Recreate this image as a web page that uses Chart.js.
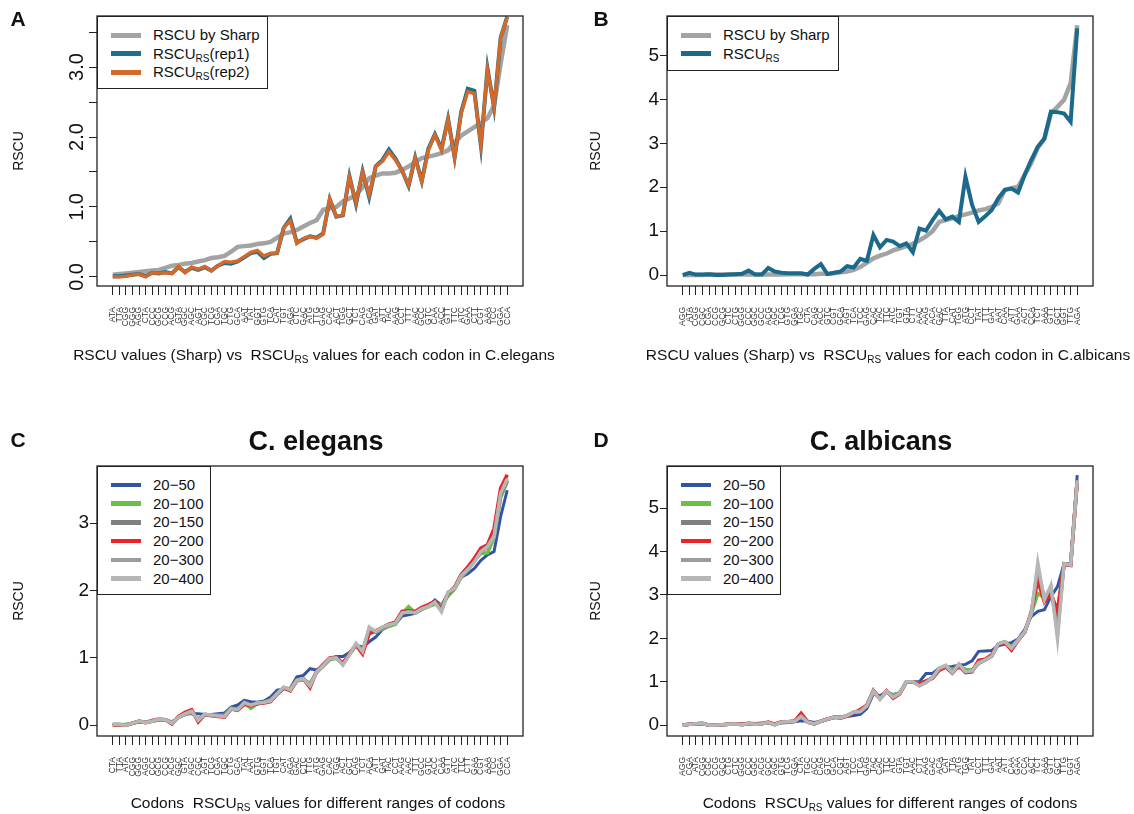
<!DOCTYPE html>
<html>
<head>
<meta charset="utf-8">
<script src="https://cdn.jsdelivr.net/npm/chart.js@4.4.0/dist/chart.umd.min.js"></script>
<style>
  body { margin: 0; background: #fff; width: 1134px; height: 814px; position: relative; overflow: hidden;
         font-family: 'Liberation Sans', Arial, sans-serif; color: #111; }
  canvas { position: absolute; }
  .t { position: absolute; white-space: nowrap; transform: translate(-50%, -50%); }
  .yt { transform: translate(-50%, -50%) rotate(-90deg); font-size: 14px; }
  .xt { font-size: 15.5px; }
  .lab { font-weight: bold; font-size: 21px; }
  .ttl { font-weight: bold; font-size: 27px; }
  .leg { position: absolute; border: 1.3px solid #222; background: #fff; box-sizing: border-box; }
  .leg div { position: absolute; left: 0; height: 18px; font-size: 15px; line-height: 18px; white-space: nowrap; }
  .leg i { position: absolute; left: 13px; top: 7px; width: 30px; height: 5px; }
  .leg span { position: absolute; left: 55px; top: 0; }
  sub { font-size: 10px; vertical-align: -3px; }
</style>
</head>
<body>
<canvas id="pA" width="567" height="364" style="left:0;top:0"></canvas>
<canvas id="pB" width="567" height="364" style="left:567px;top:0"></canvas>
<canvas id="pC" width="567" height="364" style="left:0;top:450px"></canvas>
<canvas id="pD" width="567" height="364" style="left:567px;top:450px"></canvas>

<div class="t lab" style="left:18px;top:19px">A</div>
<div class="t lab" style="left:601px;top:19px">B</div>
<div class="t lab" style="left:18px;top:440px">C</div>
<div class="t lab" style="left:601px;top:440px">D</div>
<div class="t ttl" style="left:316px;top:441px">C. elegans</div>
<div class="t ttl" style="left:881px;top:441px">C. albicans</div>

<div class="t yt" style="left:18px;top:151px">RSCU</div>
<div class="t yt" style="left:595px;top:151px">RSCU</div>
<div class="t yt" style="left:18px;top:601px">RSCU</div>
<div class="t yt" style="left:595px;top:601px">RSCU</div>

<div class="t xt" style="left:314px;top:355px">RSCU values (Sharp) vs &nbsp;RSCU<sub>RS</sub> values for each codon in C.elegans</div>
<div class="t xt" style="left:888px;top:355px">RSCU values (Sharp) vs &nbsp;RSCU<sub>RS</sub> values for each codon in C.albicans</div>
<div class="t xt" style="left:318px;top:803px">Codons &nbsp;RSCU<sub>RS</sub> values for different ranges of codons</div>
<div class="t xt" style="left:890px;top:803px">Codons &nbsp;RSCU<sub>RS</sub> values for different ranges of codons</div>

<div id="legA" class="leg" style="left:97px;top:16px;width:171px;height:73px"></div>
<div id="legB" class="leg" style="left:667px;top:16px;width:172px;height:55px"></div>
<div id="legC" class="leg" style="left:97px;top:466px;width:114px;height:129px"></div>
<div id="legD" class="leg" style="left:667px;top:466px;width:114px;height:129px"></div>

<script>
// codons, in the order of the x axis of each panel
const codonsA = ['ATA','TTA','CGG','GGG','AGG','CTA','CCC','GCG','CCG','ACG','GTA','GGC','AGC','AGT','CGC','TCG','CGA','TGC','CTG','GCA',
  'AAT','TAT','GGT','GTG','TCA','CAT','TGT','AGA','CTC','GAC','ATG','TTG','GAG','CAC','ACT','TGG','GCT','TCT','CAG','ACA',
  'GAT','ATT','TAC','AAG','CCT','TTT','AAC','GCC','GTC','CAA','ACC','GTT','TTC','ATC','GAA','CTT','CGT','AAA','TCC','GGA','CCA'];
const codonsB = ['AGG','ATA','CGG','CGC','CGA','CCG','GCG','CTC','CTG','GGG','CCC','GGC','GCC','ACG','AGC','TCG','GTG','GGA','TGC','CTA',
  'CAG','ACC','GTC','CGT','GCA','AGT','TCA','TCC','GAG','CAC','TAC','TTC','ATC','TGT','GTA','CTT','AAC','AAG','ACA','GAC',
  'TTA','CAT','TGG','ATG','CCT','TAT','TTT','GAT','AAT','CAA','ATT','GAA','ACT','CCA','TCT','AAA','GTT','GCT','GGT','TTG','AGA'];
const codonsC = ['CTA','TTA','ATA','CGG','GGG','AGG','CCC','GCG','CCG','ACG','GGC','GTA','AGC','CGC','AGT','TCG','CGA','TGC','CTG','GCA',
  'TAT','AAT','GTG','GGT','TCA','TGT','CAT','AGA','GAC','CTC','TTG','ATG','GAG','CAC','TGG','ACT','GCT','CAG','TCT','ACA',
  'ATT','GAT','TAC','CCT','AAG','AAC','TTT','GCC','GTC','ACC','CAA','GTT','ATC','TTC','CTT','GAA','CGT','AAA','TCC','GGA','CCA'];
const codonsD = ['AGG','CGA','ATA','CGG','CGC','CCG','GCG','CTG','CTC','GGG','CCC','GGC','ACG','GCC','AGC','GTG','TCG','GGA','CTA','TGC',
  'ACC','CAG','GTC','GCA','CGT','AGT','TCC','TCA','GAG','TAC','CAC','TTC','ATC','GTA','TGT','AAC','CTT','AAG','GAC','ACA',
  'CAT','TTA','ATG','TGG','TAT','CCT','TTT','GAT','AAT','ATT','CAA','GAA','CCA','ACT','TCT','AAA','GTT','GCT','TTG','GGT','AGA'];

// panel A: C. elegans
const sharpA = [0.03,0.04,0.05,0.06,0.07,0.08,0.09,0.10,0.13,0.16, 0.17,0.19,0.20,0.22,0.24,0.27,0.28,0.30,0.36,0.43,
  0.44,0.45,0.47,0.48,0.50,0.56,0.62,0.64,0.67,0.72, 0.77,0.81,0.96,0.98,1.00,1.08,1.12,1.17,1.28,1.41,
  1.45,1.48,1.48,1.49,1.53,1.58,1.64,1.70,1.72,1.74, 1.77,1.81,1.92,2.02,2.08,2.14,2.20,2.27,2.45,3.05,3.60];
const rep1A = [0.01,0.01,0.02,0.03,0.04,0.01,0.06,0.05,0.07,0.05, 0.14,0.07,0.13,0.10,0.14,0.09,0.16,0.20,0.19,0.22,
  0.28,0.34,0.36,0.27,0.33,0.34,0.70,0.83,0.49,0.54, 0.58,0.56,0.62,1.11,0.86,0.88,1.44,1.04,1.51,1.14,
  1.58,1.67,1.82,1.69,1.52,1.30,1.71,1.37,1.83,2.04, 1.83,2.26,1.71,2.36,2.69,2.66,1.87,2.98,2.42,3.42,3.72];
const rep2A = [0.00,0.00,0.01,0.03,0.04,0.00,0.06,0.05,0.06,0.05, 0.15,0.06,0.14,0.11,0.15,0.09,0.16,0.22,0.21,0.23,
  0.29,0.35,0.38,0.30,0.34,0.34,0.70,0.80,0.48,0.55, 0.58,0.55,0.61,1.12,0.86,0.89,1.43,1.06,1.50,1.17,
  1.58,1.65,1.79,1.67,1.52,1.31,1.70,1.36,1.81,2.03, 1.81,2.25,1.70,2.34,2.65,2.62,1.89,2.96,2.43,3.41,3.72];

// panel B: C. albicans
const sharpB = [0.00,0.00,0.00,0.00,0.01,0.01,0.01,0.01,0.01,0.01, 0.01,0.01,0.01,0.01,0.01,0.01,0.02,0.02,0.02,0.02,
  0.02,0.03,0.03,0.04,0.06,0.08,0.12,0.18,0.28,0.38, 0.44,0.49,0.56,0.61,0.66,0.71,0.79,0.88,1.00,1.21,
  1.25,1.29,1.34,1.38,1.42,1.47,1.50,1.55,1.63,1.94, 1.98,2.01,2.28,2.55,2.90,3.10,3.68,3.83,3.99,4.37,5.69];
const rsB = [0.00,0.05,0.01,0.01,0.02,0.00,0.00,0.01,0.02,0.03, 0.10,0.01,0.01,0.16,0.08,0.05,0.04,0.04,0.04,0.01,
  0.14,0.25,0.02,0.05,0.08,0.20,0.17,0.37,0.32,0.91, 0.63,0.80,0.76,0.66,0.72,0.52,1.06,1.01,1.25,1.46,
  1.27,1.33,1.21,2.24,1.60,1.21,1.34,1.48,1.75,1.94, 1.97,1.88,2.28,2.62,2.92,3.11,3.72,3.71,3.68,3.49,5.62];

// panel C: C. elegans, codon ranges
const c50 = [0.01,0.01,0.01,0.03,0.05,0.04,0.06,0.08,0.08,0.05, 0.11,0.17,0.17,0.17,0.16,0.16,0.17,0.18,0.27,0.30,
  0.37,0.35,0.34,0.36,0.42,0.52,0.54,0.55,0.72,0.74, 0.84,0.82,0.88,0.97,1.02,1.02,1.08,1.19,1.16,1.24,
  1.31,1.42,1.47,1.50,1.62,1.64,1.66,1.72,1.76,1.86, 1.78,1.96,2.04,2.20,2.25,2.33,2.45,2.53,2.58,3.10,3.49];
const c100 = [0.01,0.01,0.01,0.03,0.06,0.04,0.06,0.08,0.08,0.04, 0.12,0.16,0.19,0.09,0.16,0.15,0.15,0.15,0.25,0.24,
  0.33,0.25,0.32,0.34,0.38,0.46,0.55,0.54,0.67,0.68, 0.62,0.78,0.88,0.98,0.99,0.92,1.05,1.20,1.10,1.41,
  1.38,1.43,1.47,1.50,1.66,1.76,1.67,1.72,1.76,1.80, 1.78,1.92,2.02,2.20,2.30,2.45,2.55,2.56,2.78,3.38,3.62];
const c150 = [0.01,0.01,0.00,0.03,0.05,0.04,0.06,0.08,0.08,0.04, 0.12,0.16,0.20,0.08,0.16,0.15,0.14,0.14,0.24,0.23,
  0.33,0.29,0.33,0.34,0.37,0.47,0.56,0.53,0.66,0.68, 0.61,0.79,0.88,0.98,1.00,0.91,1.05,1.20,1.10,1.42,
  1.39,1.45,1.49,1.52,1.66,1.70,1.67,1.73,1.77,1.82, 1.72,1.96,2.04,2.22,2.32,2.44,2.57,2.65,2.83,3.42,3.63];
const c200 = [0.00,0.00,0.00,0.03,0.06,0.04,0.07,0.09,0.08,0.02, 0.13,0.19,0.23,0.05,0.16,0.14,0.13,0.12,0.24,0.22,
  0.31,0.29,0.32,0.33,0.35,0.46,0.55,0.51,0.66,0.69, 0.56,0.80,0.90,1.00,1.01,0.92,1.06,1.19,1.06,1.36,
  1.40,1.45,1.50,1.53,1.69,1.70,1.69,1.75,1.79,1.84, 1.72,1.96,2.05,2.24,2.35,2.48,2.63,2.68,2.92,3.52,3.72];
const c300 = [0.01,0.01,0.00,0.03,0.06,0.04,0.06,0.09,0.08,0.04, 0.12,0.17,0.20,0.08,0.16,0.15,0.14,0.13,0.24,0.23,
  0.33,0.30,0.33,0.34,0.37,0.47,0.56,0.53,0.66,0.69, 0.60,0.79,0.88,0.99,1.00,0.90,1.05,1.20,1.10,1.44,
  1.39,1.45,1.49,1.52,1.66,1.69,1.67,1.73,1.77,1.82, 1.70,1.97,2.04,2.22,2.32,2.43,2.58,2.66,2.82,3.44,3.65];
const c400 = [0.01,0.01,0.00,0.03,0.06,0.04,0.06,0.09,0.08,0.03, 0.12,0.17,0.21,0.07,0.17,0.15,0.14,0.13,0.25,0.23,
  0.34,0.30,0.33,0.34,0.36,0.47,0.57,0.52,0.67,0.69, 0.58,0.79,0.89,0.99,1.00,0.89,1.04,1.22,1.09,1.46,
  1.39,1.46,1.49,1.51,1.67,1.68,1.67,1.73,1.76,1.83, 1.68,1.98,2.03,2.22,2.31,2.42,2.58,2.65,2.80,3.45,3.66];

// panel D: C. albicans, codon ranges
const d50 = [0.00,0.02,0.02,0.03,0.01,0.01,0.01,0.02,0.02,0.02, 0.03,0.03,0.04,0.05,0.03,0.05,0.06,0.08,0.10,0.09,
  0.06,0.09,0.13,0.17,0.19,0.20,0.22,0.25,0.38,0.72, 0.68,0.76,0.70,0.74,1.00,1.00,1.00,1.19,1.19,1.31,
  1.33,1.35,1.38,1.40,1.48,1.70,1.71,1.72,1.83,1.87, 1.90,1.98,2.20,2.50,2.62,2.66,2.96,3.19,3.72,3.72,5.76];
const d100 = [0.00,0.02,0.03,0.04,0.00,0.00,0.01,0.02,0.03,0.01, 0.04,0.02,0.03,0.06,0.01,0.07,0.08,0.09,0.22,0.07,
  0.03,0.09,0.14,0.18,0.18,0.22,0.30,0.32,0.45,0.77, 0.63,0.77,0.70,0.74,1.00,1.00,0.96,1.00,1.10,1.30,
  1.34,1.29,1.32,1.29,1.27,1.42,1.50,1.60,1.87,1.92, 1.80,1.96,2.14,2.56,3.03,2.95,3.00,2.65,3.71,3.69,5.63];
const d150 = [0.00,0.02,0.03,0.04,0.00,0.00,0.01,0.02,0.03,0.01, 0.04,0.02,0.03,0.06,0.01,0.07,0.08,0.09,0.21,0.07,
  0.03,0.09,0.14,0.18,0.18,0.22,0.30,0.32,0.45,0.78, 0.61,0.78,0.66,0.73,1.00,1.00,0.92,0.99,1.10,1.30,
  1.37,1.23,1.40,1.25,1.26,1.43,1.50,1.59,1.87,1.92, 1.79,1.96,2.14,2.57,3.48,2.93,3.14,2.30,3.72,3.69,5.63];
const d200 = [0.00,0.02,0.03,0.04,0.00,0.00,0.01,0.02,0.03,0.02, 0.04,0.03,0.04,0.07,0.02,0.08,0.08,0.09,0.27,0.08,
  0.03,0.09,0.14,0.18,0.16,0.21,0.28,0.36,0.46,0.80, 0.61,0.79,0.62,0.72,0.99,1.00,0.95,1.02,1.08,1.26,
  1.34,1.20,1.38,1.21,1.23,1.49,1.52,1.62,1.86,1.90, 1.73,1.95,2.14,2.60,3.34,2.84,3.03,2.62,3.70,3.68,5.62];
const d300 = [0.00,0.02,0.03,0.04,0.00,0.00,0.01,0.02,0.03,0.01, 0.04,0.02,0.03,0.06,0.01,0.07,0.08,0.09,0.21,0.07,
  0.03,0.09,0.14,0.18,0.18,0.22,0.30,0.32,0.45,0.78, 0.60,0.78,0.65,0.73,1.00,1.00,0.91,0.98,1.10,1.30,
  1.37,1.22,1.40,1.24,1.25,1.43,1.50,1.59,1.87,1.92, 1.78,1.96,2.14,2.57,3.62,2.92,3.18,2.10,3.72,3.69,5.63];
const d400 = [0.00,0.02,0.03,0.04,0.00,0.00,0.01,0.02,0.03,0.01, 0.04,0.02,0.03,0.06,0.01,0.07,0.08,0.08,0.20,0.07,
  0.03,0.09,0.14,0.18,0.17,0.22,0.30,0.31,0.44,0.79, 0.59,0.79,0.64,0.73,1.00,1.00,0.90,0.98,1.10,1.31,
  1.38,1.21,1.41,1.23,1.25,1.44,1.50,1.59,1.88,1.92, 1.77,1.96,2.15,2.57,3.76,2.88,3.23,1.96,3.72,3.69,5.64];

const rangeNames = ['20\u221250','20\u2212100','20\u2212150','20\u2212200','20\u2212300','20\u2212400'];

// y ticks
const yTicksA = [0, 0.5, 1, 1.5, 2, 2.5, 3, 3.5];
const yLabelsA = ['0.0', '', '1.0', '', '2.0', '', '3.0', ''];
const yTicksB = [0, 1, 2, 3, 4, 5];
const yTicksC = [0, 1, 2, 3];
const yTicksD = [0, 1, 2, 3, 4, 5];

// styles
const grey = '#a3a3a3';
const rangeColors = ['#3553a4', '#6bbf47', '#808080', '#ec2227', '#9c9c9c', '#b6b6b6'];

Chart.defaults.font.family = "'Liberation Sans', Arial, sans-serif";
Chart.defaults.color = '#111';

const boxPlugin = {
  id: 'box',
  afterDatasetsDraw(chart) {
    const { ctx, chartArea: a } = chart;
    ctx.save();
    ctx.strokeStyle = '#222';
    ctx.lineWidth = 1.3;
    ctx.strokeRect(a.left, a.top, a.right - a.left, a.bottom - a.top);
    ctx.restore();
  }
};

function panel(id, codons, sets, o) {
  new Chart(document.getElementById(id), {
    type: 'line',
    data: {
      datasets: sets.map(s => ({
        label: s.label,
        data: s.values.map((v, i) => ({ x: i + 1, y: v })),
        borderColor: s.color,
        borderWidth: s.width,
        pointRadius: 0,
        tension: 0,
        fill: false,
        order: s.order
      }))
    },
    options: {
      responsive: false,
      animation: false,
      events: [],
      layout: { padding: { left: 0, top: 16, right: o.right, bottom: 0 } },
      plugins: { legend: { display: false }, tooltip: { enabled: false } },
      scales: {
        x: {
          type: 'linear', min: -1.4, max: 63.4,
          afterBuildTicks: s => { s.ticks = codons.map((c, i) => ({ value: i + 1 })); },
          afterFit: s => { s.height = 78; },
          grid: { drawOnChartArea: false, tickLength: 9, color: '#222' },
          border: { display: false },
          ticks: {
            autoSkip: false, minRotation: 90, maxRotation: 90, padding: 12,
            font: { size: 8.5 }, color: '#333',
            callback: v => codons[v - 1]
          }
        },
        y: {
          min: o.ymin, max: o.ymax,
          afterBuildTicks: s => { s.ticks = o.ticks.map(v => ({ value: v })); },
          afterFit: s => { s.width = o.left; },
          grid: { drawOnChartArea: false, tickLength: o.rotate ? 8 : 7, color: '#222' },
          border: { display: false },
          ticks: o.rotate
            ? { minRotation: 90, maxRotation: 90, crossAlign: 'center', padding: -2, font: { size: 20 },
                callback: (v, i) => o.labels[i] }
            : { padding: 1, font: { size: 19 }, callback: v => String(v) }
        }
      }
    },
    plugins: [boxPlugin]
  });
}

function legend(id, items, lw) {
  const el = document.getElementById(id);
  items.forEach((it, k) => {
    const row = document.createElement('div');
    row.style.top = (9 + k * 18.7) + 'px';
    row.innerHTML = '<i style="background:' + it.color + ';height:' + lw + 'px;top:' + (9 - lw / 2) + 'px"></i><span>' + it.html + '</span>';
    el.appendChild(row);
  });
}

panel('pA', codonsA, [
  { label: 'RSCU by Sharp', values: sharpA, color: grey, width: 4.5, order: 3 },
  { label: 'RSCU_RS(rep1)', values: rep1A, color: '#1f6e8c', width: 4, order: 2 },
  { label: 'RSCU_RS(rep2)', values: rep2A, color: '#d3692a', width: 3.4, order: 1 }
], { left: 97, right: 44, ymin: -0.13, ymax: 3.73, ticks: yTicksA, labels: yLabelsA, rotate: true });

panel('pB', codonsB, [
  { label: 'RSCU by Sharp', values: sharpB, color: grey, width: 4.5, order: 2 },
  { label: 'RSCU_RS', values: rsB, color: '#1b6a8b', width: 4, order: 1 }
], { left: 100, right: 41, ymin: -0.25, ymax: 5.9, ticks: yTicksB });

const cVals = [c50, c100, c150, c200, c300, c400];
const dVals = [d50, d100, d150, d200, d300, d400];
const rangeWidths = [3, 3.5, 3.5, 3.6, 3.4, 3.2];

panel('pC', codonsC, rangeNames.map((n, k) => ({ label: n, values: cVals[k], color: rangeColors[k], width: rangeWidths[k], order: 6 - k })),
  { left: 97, right: 44, ymin: -0.16, ymax: 3.85, ticks: yTicksC });
panel('pD', codonsD, rangeNames.map((n, k) => ({ label: n, values: dVals[k], color: rangeColors[k], width: rangeWidths[k], order: 6 - k })),
  { left: 100, right: 41, ymin: -0.25, ymax: 5.97, ticks: yTicksD });

legend('legA', [
  { html: 'RSCU by Sharp', color: grey },
  { html: 'RSCU<sub>RS</sub>(rep1)', color: '#1f6e8c' },
  { html: 'RSCU<sub>RS</sub>(rep2)', color: '#d3692a' }
], 5);
legend('legB', [
  { html: 'RSCU by Sharp', color: grey },
  { html: 'RSCU<sub>RS</sub>', color: '#1b6a8b' }
], 5);
legend('legC', rangeNames.map((n, k) => ({ html: n, color: rangeColors[k] })), 4.5);
legend('legD', rangeNames.map((n, k) => ({ html: n, color: rangeColors[k] })), 4.5);
</script>
</body>
</html>
